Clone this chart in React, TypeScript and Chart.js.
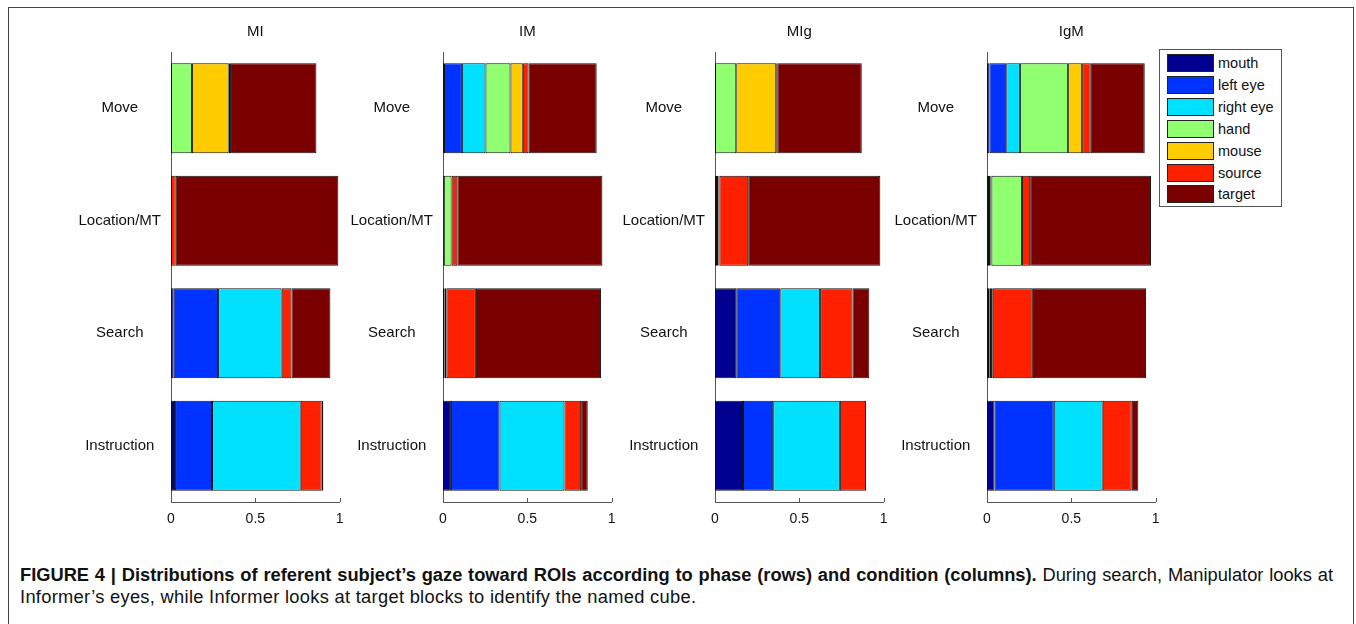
import React, { useEffect, useRef } from "react";
import { Chart, registerables } from "chart.js";

Chart.register(...registerables);

const phases = ["Move", "Location/MT", "Search", "Instruction"];
const rois = ["mouth", "left eye", "right eye", "hand", "mouse", "source", "target"];
const roiColors = ["#000090", "#0033ff", "#00e0ff", "#90ff70", "#ffcc00", "#ff2000", "#7a0000"];
const conditions = ["MI", "IM", "MIg", "IgM"];
const xTicks = [0, 0.5, 1];
const xTickLabels = ["0", "0.5", "1"];

// rows: ROI (mouth .. target), columns: phase (Move, Location/MT, Search, Instruction)
const valuesMI = [
  [0, 0, 0.016, 0.024],
  [0, 0, 0.263, 0.219],
  [0, 0, 0.377, 0.526],
  [0.124, 0, 0, 0],
  [0.218, 0, 0, 0],
  [0.008, 0.028, 0.058, 0.124],
  [0.512, 0.964, 0.231, 0.01],
];
const valuesIM = [
  [0.006, 0.005, 0.006, 0.047],
  [0.106, 0, 0.004, 0.288],
  [0.14, 0, 0.01, 0.385],
  [0.148, 0.046, 0, 0],
  [0.073, 0, 0, 0],
  [0.034, 0.034, 0.175, 0.099],
  [0.404, 0.86, 0.742, 0.039],
];
const valuesMIg = [
  [0, 0.006, 0.126, 0.166],
  [0, 0.006, 0.261, 0.179],
  [0, 0.008, 0.236, 0.395],
  [0.126, 0.006, 0, 0],
  [0.237, 0, 0, 0],
  [0.006, 0.171, 0.192, 0.155],
  [0.501, 0.783, 0.1, 0],
];
const valuesIgM = [
  [0.014, 0.012, 0.012, 0.045],
  [0.1, 0.01, 0.004, 0.351],
  [0.081, 0.004, 0.008, 0.29],
  [0.286, 0.181, 0.01, 0],
  [0.083, 0, 0, 0],
  [0.051, 0.049, 0.238, 0.172],
  [0.32, 0.716, 0.671, 0.039],
];

const panelValues = [valuesMI, valuesIM, valuesMIg, valuesIgM];
const panelAxisX = [170.7, 442.7, 715.3, 987.3];

const FONT = '"Liberation Sans", Arial, Helvetica, sans-serif';
const LABEL_W = 110;
const PLOT_W = 168.7;
const CANVAS_W = 291;
const CANVAS_H = 540;
const XAXIS_H = 30;
const PAD_BOTTOM = CANVAS_H - XAXIS_H - 502;

const inwardTicks = {
  id: "inwardTicks",
  afterDraw(chart: any) {
    const xs = chart.scales.x;
    const { ctx, chartArea } = chart;
    ctx.save();
    ctx.strokeStyle = "#555";
    ctx.lineWidth = 1;
    xTicks.forEach((v) => {
      const px = Math.round(xs.getPixelForValue(v)) + 0.5;
      ctx.beginPath();
      ctx.moveTo(px, chartArea.bottom);
      ctx.lineTo(px, chartArea.bottom - 4);
      ctx.stroke();
    });
    ctx.restore();
  },
};

function Panel({ title, values, axisX }: { title: string; values: number[][]; axisX: number }) {
  const ref = useRef<HTMLCanvasElement | null>(null);
  useEffect(() => {
    if (!ref.current) return;
    const chart = new Chart(ref.current, {
      type: "bar",
      data: {
        labels: phases,
        datasets: rois.map((r, i) => ({
          label: r,
          data: values[i],
          backgroundColor: roiColors[i],
          borderColor: "#111",
          borderWidth: 1,
          borderSkipped: false,
          categoryPercentage: 1,
          barPercentage: 0.8,
        })),
      },
      options: {
        indexAxis: "y",
        animation: false,
        responsive: true,
        maintainAspectRatio: false,
        layout: { padding: { top: 4, right: CANVAS_W - LABEL_W - PLOT_W, bottom: PAD_BOTTOM, left: 0 } },
        plugins: {
          legend: { display: false },
          tooltip: { enabled: false },
          title: {
            display: true,
            text: title,
            fullSize: false,
            color: "#111",
            font: { family: FONT, size: 15, weight: "normal", lineHeight: 1.2 },
            padding: { top: 19, bottom: 11 },
          },
        },
        scales: {
          x: {
            type: "linear",
            stacked: true,
            min: 0,
            max: 1,
            afterBuildTicks: (s: any) => {
              s.ticks = xTicks.map((v) => ({ value: v }));
            },
            ticks: {
              color: "#111",
              font: { family: FONT, size: 14 },
              padding: 9,
              maxRotation: 0,
              callback: (_v: any, i: number) => xTickLabels[i],
            },
            grid: { display: false, drawTicks: false },
            border: { display: true, color: "#555" },
            afterFit: (s: any) => {
              s.height = XAXIS_H;
              s.paddingLeft = 0;
              s.paddingRight = 0;
            },
          },
          y: {
            stacked: true,
            ticks: { crossAlign: "center", padding: 10, color: "#111", font: { family: FONT, size: 15 } },
            grid: { display: false, drawTicks: false },
            border: { display: true, color: "#555" },
            afterFit: (s: any) => {
              s.width = LABEL_W;
              s.paddingTop = 0;
              s.paddingBottom = 0;
            },
          },
        },
      } as any,
      plugins: [inwardTicks],
    });
    return () => chart.destroy();
  }, [title, values]);
  return (
    <div style={{ position: "absolute", left: axisX - LABEL_W, top: 0, width: CANVAS_W, height: CANVAS_H }}>
      <canvas ref={ref} />
    </div>
  );
}

function Legend() {
  return (
    <div
      style={{
        position: "absolute",
        left: 1159,
        top: 49,
        width: 123,
        height: 158,
        border: "1px solid #555",
        boxSizing: "border-box",
        background: "#fff",
      }}
    >
      {rois.map((r, i) => (
        <div key={r} style={{ position: "absolute", left: 7, top: 4 + i * 21.9, height: 18, display: "flex", alignItems: "center" }}>
          <div style={{ width: 45, height: 16, background: roiColors[i], border: "1px solid #222" }} />
          <span style={{ marginLeft: 4, fontFamily: FONT, fontSize: 14.5, color: "#111", whiteSpace: "nowrap" }}>{r}</span>
        </div>
      ))}
    </div>
  );
}

export default function App() {
  const captionFont = '"Liberation Sans", Arial, sans-serif';
  return (
    <div style={{ position: "fixed", left: 0, top: 0, width: 1356, height: 624, overflow: "hidden", background: "#fff" }}>
      <div
        style={{
          position: "absolute",
          left: 8,
          top: 7,
          width: 1346,
          height: 700,
          border: "1px solid #444",
          boxSizing: "border-box",
        }}
      />
      {conditions.map((c, i) => (
        <Panel key={c} title={c} values={panelValues[i]} axisX={panelAxisX[i]} />
      ))}
      <Legend />
      <div
        style={{
          position: "absolute",
          left: 20,
          top: 564,
          width: 1313,
          fontFamily: captionFont,
          fontSize: 18.3,
          lineHeight: "22px",
          color: "#111",
        }}
      >
        <div style={{ whiteSpace: "nowrap", textAlign: "justify", textAlignLast: "justify" } as any}>
          <b>FIGURE 4 | Distributions of referent subject’s gaze toward ROIs according to phase (rows) and condition (columns).</b>{" "}
          During search, Manipulator looks at
        </div>
        <div style={{ whiteSpace: "nowrap", letterSpacing: "0.3px" }}>
          Informer’s eyes, while Informer looks at target blocks to identify the named cube.
        </div>
      </div>
    </div>
  );
}
